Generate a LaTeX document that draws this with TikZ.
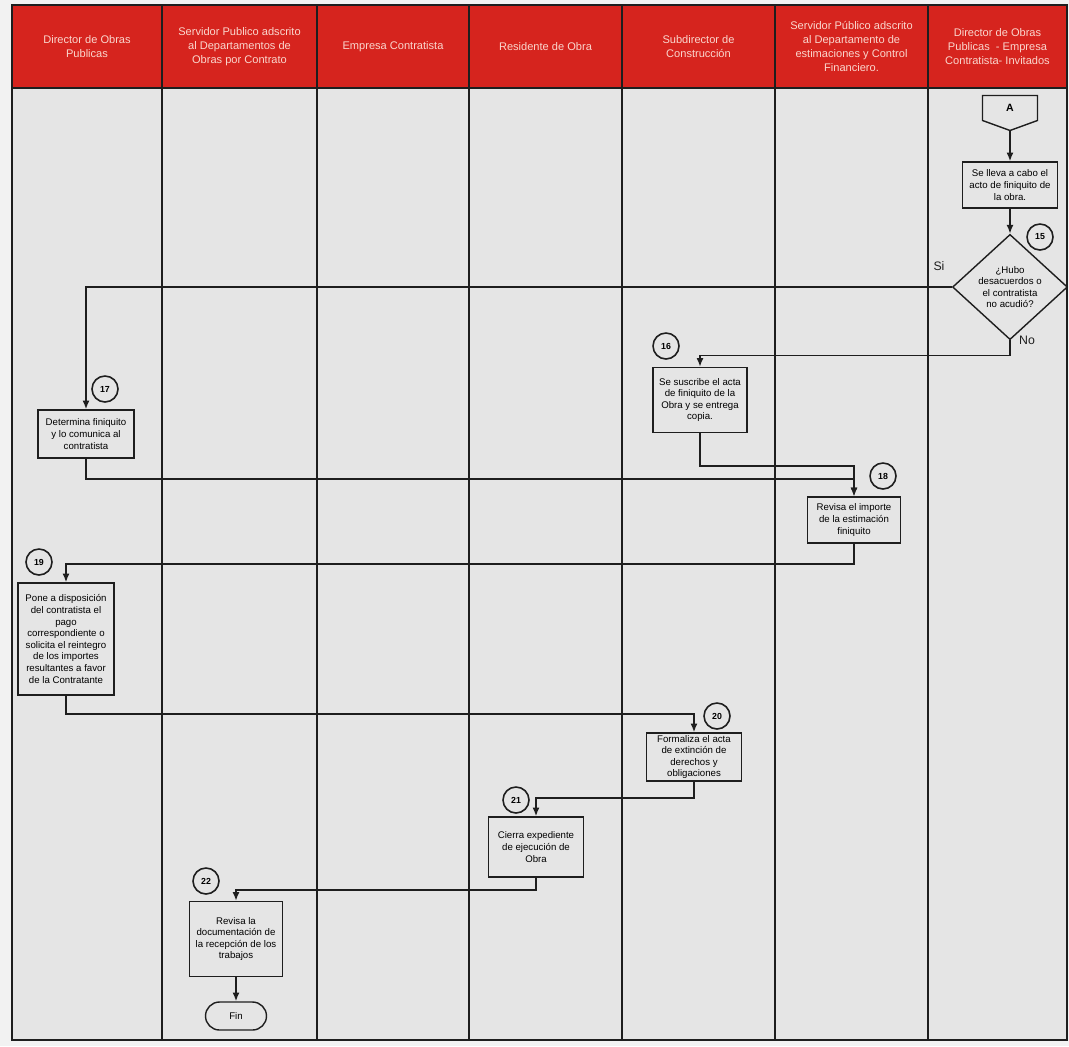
\documentclass[tikz,border=0pt]{standalone}
\usepackage{fontspec}
\setmainfont{Liberation Sans}
\usetikzlibrary{arrows.meta,shapes.geometric,shapes.symbols}
\definecolor{lanered}{RGB}{214,36,30}
\definecolor{lanetxt}{RGB}{250,214,205}
\definecolor{paper}{RGB}{229,229,229}
\definecolor{margin}{RGB}{242,242,242}
\definecolor{ink}{RGB}{30,30,30}

\begin{document}
\begin{tikzpicture}[x=0.02cm,y=-0.02cm,
      >={Latex[length=5pt,width=4pt]},
      lane/.style={draw=ink,fill=lanered,line width=0.8pt,minimum height=1.66cm,inner sep=1pt,
                   align=center,font=\fontsize{6.3}{8}\selectfont,text=lanetxt},
      act/.style={draw=ink,line width=0.8pt,inner sep=1pt,align=center,
                  font=\fontsize{5.5}{6.6}\selectfont},
      num/.style={circle,draw=ink,line width=0.9pt,minimum size=0.52cm,inner sep=0pt,
                  font=\fontsize{5}{6}\selectfont\bfseries},
      flow/.style={->,line width=0.9pt,color=ink},
    ]
    \useasboundingbox[fill=margin] (0,0) rectangle (1069,1046);
    % lanes
    \fill[paper] (12,88) rectangle (1067,1040);
    \draw[ink,line width=0.8pt] (12,88) rectangle (1067,1040);
    \draw[ink,line width=0.8pt] (162,88) -- (162,1040) (317,88) -- (317,1040)
      (469,88) -- (469,1040) (622,88) -- (622,1040) (775,88) -- (775,1040) (928,88) -- (928,1040);
    \node[lane,minimum width=3.0cm]  (h1) at (87,46.5)    {Director de Obras\\Publicas};
    \node[lane,minimum width=3.1cm]  (h2) at (239.5,46.5) {Servidor Publico adscrito\\al Departamentos de\\Obras por Contrato};
    \node[lane,minimum width=3.04cm] (h3) at (393,46.5)   {Empresa Contratista};
    \node[lane,minimum width=3.06cm] (h4) at (545.5,46.5) {Residente de Obra};
    \node[lane,minimum width=3.06cm] (h5) at (698.5,46.5) {Subdirector de\\Construcción};
    \node[lane,minimum width=3.06cm] (h6) at (851.5,46.5) {Servidor Público adscrito\\al Departamento de\\estimaciones y Control\\Financiero.};
    \node[lane,minimum width=2.78cm] (h7) at (997.5,46.5) {Director de Obras\\Publicas \ - Empresa\\Contratista- Invitados};
    % steps
    \node[draw=ink,line width=0.8pt,signal,signal to=south,signal pointer angle=140,
          minimum width=1.1cm,minimum height=0.54cm,inner sep=1pt,
          font=\fontsize{6}{7}\selectfont\bfseries] (A) at (1010,108) {A};
    \node[act,minimum width=1.9cm,minimum height=0.92cm] (b14) at (1010,185)
      {Se lleva a cabo el\\acto de finiquito de\\la obra.};
    \node[act,diamond,minimum width=2.3cm,minimum height=1.9cm,inner sep=0pt] (q15) at (1010,287)
      {¿Hubo\\desacuerdos o\\el contratista\\no acudió?};
    \node[act,minimum width=1.88cm,minimum height=1.3cm] (b16) at (700,400)
      {Se suscribe el acta\\de finiquito de la\\Obra y se entrega\\copia.};
    \node[act,minimum width=1.92cm,minimum height=0.96cm] (b17) at (86,434)
      {Determina finiquito\\y lo comunica al\\contratista};
    \node[act,minimum width=1.86cm,minimum height=0.92cm] (b18) at (854,520)
      {Revisa el importe\\de la estimación\\finiquito};
    \node[act,minimum width=1.92cm,minimum height=2.24cm] (b19) at (66,639)
      {Pone a disposición\\del contratista el\\pago\\correspondiente o\\solicita el reintegro\\de los importes\\resultantes a favor\\de la Contratante};
    \node[act,minimum width=1.9cm,minimum height=0.96cm] (b20) at (694,757)
      {Formaliza el acta\\de extinción de\\derechos y\\obligaciones};
    \node[act,minimum width=1.9cm,minimum height=1.2cm] (b21) at (536,847)
      {Cierra expediente\\de ejecución de\\Obra};
    \node[act,minimum width=1.86cm,minimum height=1.5cm] (b22) at (236,939)
      {Revisa la\\documentación de\\la recepción de los\\trabajos};
    \node[act,rounded corners=0.28cm,minimum width=1.22cm,minimum height=0.56cm] (fin) at (236,1016) {Fin};
    % step numbers
    \node[num] (n15) at (1040,237) {15};
    \node[num] (n16) at (666,346)  {16};
    \node[num] (n17) at (105,389)  {17};
    \node[num] (n18) at (883,476)  {18};
    \node[num] (n19) at (39,562)   {19};
    \node[num] (n20) at (717,716)  {20};
    \node[num] (n21) at (516,800)  {21};
    \node[num] (n22) at (206,881)  {22};
    % flow
    \draw[flow] (A) -- (b14);
    \draw[flow] (b14) -- (q15);
    \draw[flow] (q15.west) -| (b17.north);
    \draw[flow] (q15.south) -- ++(0,15) -| (b16.north);
    \draw[flow] (b17.south) -- ++(0,20) -| (b18.north);
    \draw[flow] (b16.south) -- ++(0,33) -| (b18.north);
    \draw[flow] (b18.south) -- ++(0,20) -| (b19.north);
    \draw[flow] (b19.south) -- ++(0,18.4) -| (b20.north);
    \draw[flow] (b20.south) -- ++(0,16) -| (b21.north);
    \draw[flow] (b21.south) -- ++(0,12) -| (b22.north);
    \draw[flow] (b22) -- (fin);
    \node[font=\fontsize{7}{8}\selectfont,color=ink] (si) at (939,266) {Si};
    \node[font=\fontsize{7}{8}\selectfont,color=ink] (no) at (1027,340) {No};
  \end{tikzpicture}
\end{document}
